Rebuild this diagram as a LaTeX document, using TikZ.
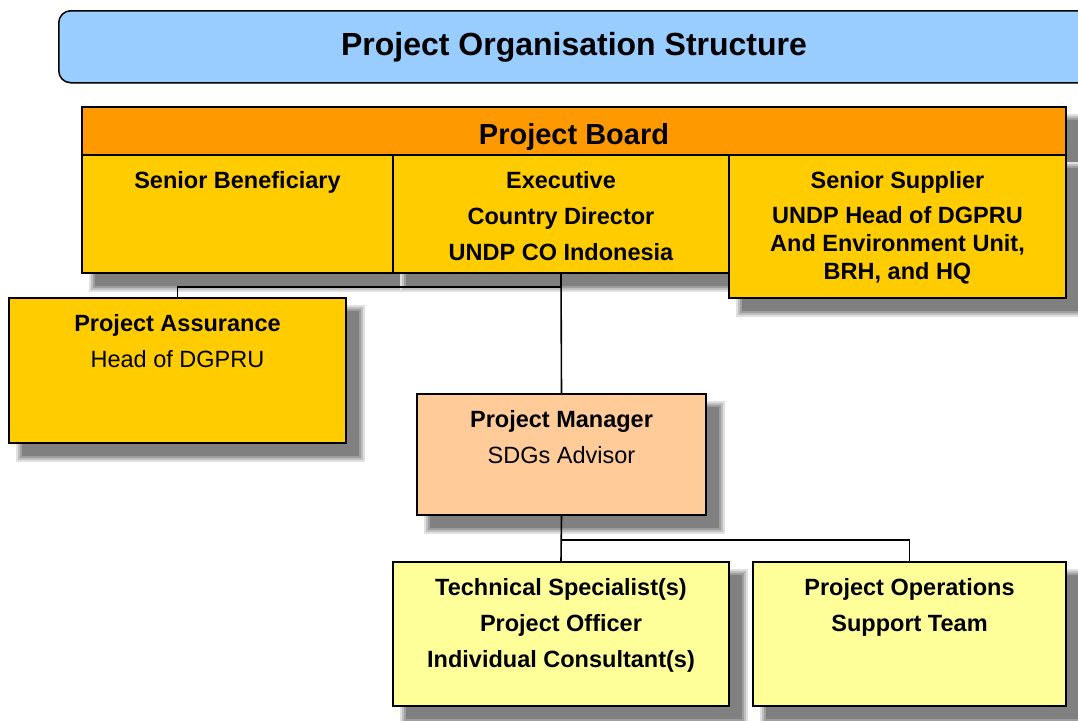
\documentclass[tikz,border=0pt]{standalone}
\usepackage{fontspec}
\setmainfont{Liberation Sans}
\definecolor{titleblue}{HTML}{99CCFF}
\definecolor{boardorange}{HTML}{FF9900}
\definecolor{cellyellow}{HTML}{FFCC00}
\definecolor{pmpeach}{HTML}{FFCC99}
\definecolor{teamyellow}{HTML}{FFFF99}
\begin{document}
\begin{tikzpicture}[x=1pt,y=-1pt,
  softshadow/.style={
    preaction={draw=black!12, line width=12pt, transform canvas={shift={(13pt,-13pt)}}},
    preaction={draw=black!25, line width=8pt, transform canvas={shift={(13pt,-13pt)}}},
    preaction={draw=black!38, line width=4pt, transform canvas={shift={(13pt,-13pt)}}},
    preaction={fill=black!50, transform canvas={shift={(13pt,-13pt)}}}},
  box/.style={draw=black, line width=1.5pt, rectangle, inner sep=0pt, softshadow},
  txt/.style={anchor=north, align=center, inner sep=0pt,
    font=\fontsize{23.5}{28}\selectfont\bfseries},
  conn/.style={line width=1.6pt}]
\useasboundingbox (0,0) rectangle (1078,720);
\clip (0,0) rectangle (1078,720);
% title
\node[draw=black, line width=1.5pt, rounded corners=12pt, fill=titleblue, inner sep=0pt,
  minimum width=1060pt, minimum height=72pt, anchor=north west] (title) at (58,10) {};
\node[font=\fontsize{32}{36}\selectfont\bfseries, inner sep=0pt] (titletext) at (574,47) {Project Organisation Structure};
% board
\node[box, fill=boardorange, minimum width=984pt, minimum height=48pt] (board) at (574,131) {};
\node[font=\fontsize{29}{32}\selectfont\bfseries, inner sep=0pt] (boardtext) at (574,137) {Project Board};
\node[box, fill=cellyellow, minimum width=311pt, minimum height=118pt] (sb) at (237.5,214) {};
\node[box, fill=cellyellow, minimum width=336pt, minimum height=118pt] (exec) at (561,214) {};
\node[box, fill=cellyellow, minimum width=337pt, minimum height=143pt] (ss) at (897.5,226.5) {};
\node[txt, yshift=-17.5pt] (sbtext) at (sb.north) {Senior Beneficiary};
\node[txt, yshift=-17.5pt] (exectext) at (exec.north) {Executive\\[8pt]Country Director\\[8pt]UNDP CO Indonesia};
\node[txt, yshift=-17.5pt] (sstext) at (ss.north) {Senior Supplier\\[7pt]UNDP Head of DGPRU\\And Environment Unit,\\BRH, and HQ};
% assurance
\node[box, fill=cellyellow, minimum width=337pt, minimum height=145pt] (pa) at (177.5,370.5) {};
\node[txt, yshift=-17.5pt] (patext) at (pa.north) {Project Assurance\\[8pt]{\mdseries Head of DGPRU}};
% manager
\node[box, fill=pmpeach, minimum width=289pt, minimum height=121pt] (pm) at (561.5,454.5) {};
\node[txt, yshift=-17.5pt] (pmtext) at (pm.north) {Project Manager\\[8pt]{\mdseries SDGs Advisor}};
% teams
\node[box, fill=teamyellow, minimum width=336pt, minimum height=144pt] (tech) at (561,634) {};
\node[box, fill=teamyellow, minimum width=313pt, minimum height=144pt] (ops) at (909.5,634) {};
\node[txt, yshift=-17.5pt] (techtext) at (tech.north) {Technical Specialist(s)\\[8pt]Project Officer\\[8pt]Individual Consultant(s)};
\node[txt, yshift=-17.5pt] (opstext) at (ops.north) {Project Operations\\[8pt]Support Team};
% connectors
\draw[conn] (exec.south) -- (pm.north);
\draw[conn] (exec.south) -- ++(0,13) -| (pa.north);
\draw[conn] (pm.south) -- (tech.north);
\draw[conn] (pm.south) -- ++(0,24) -| (ops.north);
\end{tikzpicture}
\end{document}
